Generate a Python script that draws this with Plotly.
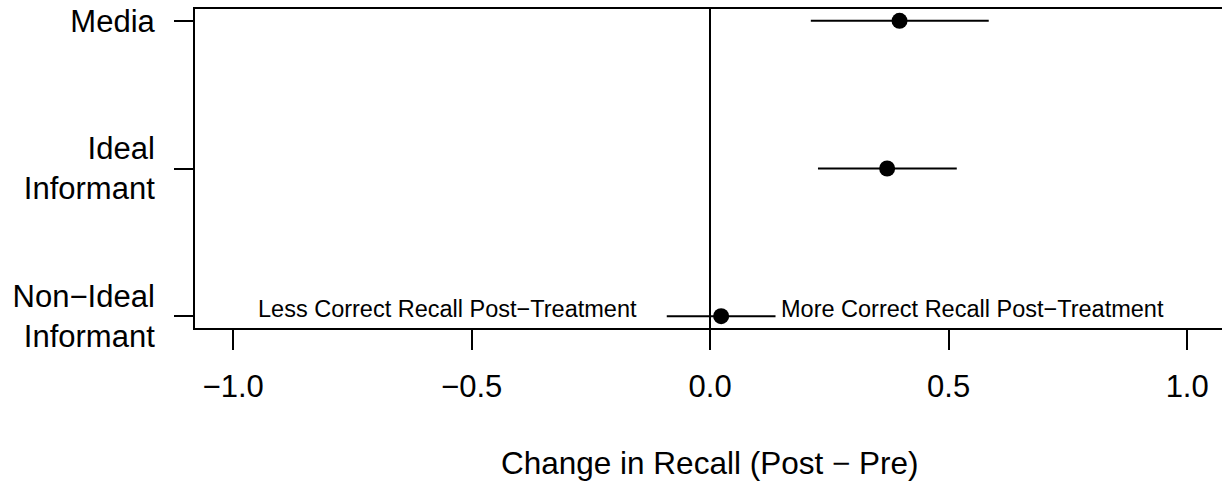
import plotly.graph_objects as go

# ---- data ----
categories = ["Non\u2212Ideal<br>Informant", "Ideal<br>Informant", "Media"]
positions = [1, 2, 3]
estimates = [0.023, 0.371, 0.397]
ci_low = [-0.091, 0.226, 0.211]
ci_high = [0.137, 0.517, 0.584]
x_ticks = [-1.0, -0.5, 0.0, 0.5, 1.0]
x_tick_labels = ["\u22121.0", "\u22120.5", "0.0", "0.5", "1.0"]
x_title = "Change in Recall (Post \u2212 Pre)"
note_left = "Less Correct Recall Post\u2212Treatment"
note_right = "More Correct Recall Post\u2212Treatment"

FONT = "Liberation Sans, Arial, Helvetica, sans-serif"

err_plus = [h - e for h, e in zip(ci_high, estimates)]
err_minus = [e - l for e, l in zip(estimates, ci_low)]

fig = go.Figure()
fig.add_trace(go.Scatter(
    x=estimates, y=positions, mode="markers",
    marker=dict(color="black", size=16),
    error_x=dict(type="data", array=err_plus, arrayminus=err_minus,
                 symmetric=False, width=0, thickness=2, color="black"),
    showlegend=False, hoverinfo="skip",
))

fig.add_annotation(x=-0.55, y=1.05, xref="x", yref="y", text=note_left,
                   showarrow=False, xanchor="center", yanchor="middle",
                   font=dict(family=FONT, size=23.5, color="black"))
fig.add_annotation(x=0.55, y=1.05, xref="x", yref="y", text=note_right,
                   showarrow=False, xanchor="center", yanchor="middle",
                   font=dict(family=FONT, size=23.5, color="black"))
fig.add_annotation(x=0, y=0, xref="x", yref="paper", text=x_title,
                   showarrow=False, xanchor="center", yanchor="middle",
                   yshift=-134.5,
                   font=dict(family=FONT, size=31.5, color="black"))

fig.update_layout(
    width=1222, height=482,
    margin=dict(l=195, r=0, t=9, b=154, pad=0),
    paper_bgcolor="white", plot_bgcolor="white",
    font=dict(family=FONT, size=31, color="black"),
    showlegend=False,
)
fig.update_xaxes(
    range=[-1.08, 1.073], tickmode="array", tickvals=x_ticks,
    ticktext=x_tick_labels, ticks="outside", ticklen=20, tickwidth=2,
    tickcolor="black", showline=True, linewidth=2, linecolor="black",
    mirror=True, showgrid=False, zeroline=True, zerolinecolor="black",
    zerolinewidth=2, ticklabelstandoff=10,
    tickfont=dict(family=FONT, size=31, color="black"),
)
fig.update_yaxes(
    range=[0.92, 3.08], tickmode="array", tickvals=positions,
    ticktext=categories, ticks="outside", ticklen=19, tickwidth=2,
    tickcolor="black", showline=True, linewidth=2, linecolor="black",
    mirror=False, showgrid=False, zeroline=False, ticklabelstandoff=13,
    tickfont=dict(family=FONT, size=31, color="black"),
)

fig.write_html("out.html", config={"displayModeBar": False},
               post_script="document.body.style.margin='0px';")
